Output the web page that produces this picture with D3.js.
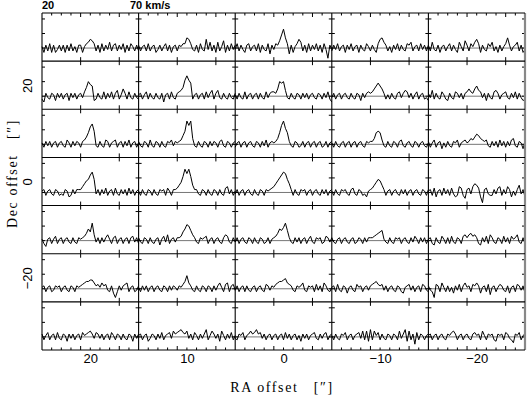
<!DOCTYPE html>
<html><head><meta charset="utf-8">
<script src="https://cdn.jsdelivr.net/npm/d3@7"></script>
<style>body{margin:0;background:#fff} svg{display:block}</style>
</head><body>
<script>
// ---- data ----
const raOffsets = [20, 10, 0, -10, -20];
const decOffsets = [30, 20, 10, 0, -10, -20, -30];
const raTicks = [20, 10, 0, -10, -20];
const decTicks = [20, 0, -20];
const velocity = [20,21,22,23,24,25,26,27,28,29,30,31,32,33,34,35,36,37,38,39,40,41,42,43,44,45,46,47,48,49,50,51,52,53,54,55,56,57,58,59,60,61,62,63,64,65,66,67,68,69,70];
const velMajorTicks = [40, 60];
const velMinorTicks = [25, 30, 35, 45, 50, 55, 65];
const intensityTicks = [0, 10, 20];
const velLabels = ["20", "70 km/s"];

// spectra, one array per Dec row, 5 RA columns each (units of 0.1 K)
const dec30 = [
 [1,-3,2,-2,3,-3,2,-3,-1,2, -2,2,-3,2,-2,3,-2,1,-3,2, 2,-3,1,3,4,6,5,3,-2,2, -3,3,-2,2,-1,4,-2,2,3,-2, 2,-1,3,-3,2,-2,3,1,-2,2, -2],
 [2,-2,1,2,-2,3,-2,1,2,-3, -1,2,-2,1,3,-2,2,-3,1,2, -2,2,1,3,3,7,6,3,-1,-2, 2,-3,3,-1,-2,6,-1,4,-2,2, -3,4,-2,1,5,-3,2,-2,3,-1, 2],
 [-1,3,-2,2,-1,-3,2,3,-2,1, 2,-2,3,-3,2,-1,-2,3,-4,2, -1,3,2,5,9,13,7,3,-4,2, -3,1,3,6,4,-2,2,-3,3,-2, 2,-1,3,-2,2,-3,3,-1,-7,2, -1],
 [-2,2,-1,3,-2,1,2,-3,2,-1, 3,-2,1,2,-3,2,-1,-2,3,1, -2,2,-1,-3,3,6,7,4,2,-2, 1,-3,2,-1,3,-2,2,-1,-2,3, 2,4,-2,1,2,-2,3,-1,2,-2, 2],
 [2,-2,4,-1,-2,2,-3,1,2,-2, 1,3,-2,2,-1,-3,4,1,-2,5, 2,-2,3,1,4,6,3,-3,2,-1, -2,3,1,4,-2,1,-3,2,-2,1, 3,7,2,-2,1,2,4,-2,2,-3, -1]
];
const dec20 = [
 [-2,-4,2,-1,-2,2,1,-3,2,-1, 2,-2,1,2,-3,2,-1,2,-2,1, 2,-1,3,6,10,8,7,-3,-2,2, -1,-2,3,-2,2,-1,3,-2,2,4, -2,1,5,2,-2,3,-1,-2,2,-1, -2],
 [1,2,-2,1,3,-2,2,-1,-2,2, -1,-2,2,-4,1,2,-2,3,-1,-2, 2,3,4,6,11,14,11,9,-2,1, 2,-2,1,2,-2,3,-1,2,4,-2, 2,4,-1,-2,2,-1,-2,2,-1,-2, 2],
 [1,-2,2,-1,-2,3,-2,1,2,-2, 1,2,-2,2,-1,-2,3,-1,2,3, 3,2,5,10,9,10,4,-1,-2,2, -1,-2,2,1,-2,2,-1,2,-2,1, 2,-1,-2,2,1,-2,2,-1,3,-2, -4],
 [-1,2,-2,1,2,-2,1,2,-1,-2, 2,-1,-2,2,1,-3,2,-1,2,3, 2,3,5,7,9,7,5,2,-2,1, -2,2,-1,-2,2,3,-1,2,4,3, -1,2,-2,1,3,-2,1,2,-2,-1, -3],
 [2,-1,4,-2,2,-1,-2,3,1,-2, -3,2,-1,-2,3,2,-1,2,-2,2, 3,5,3,2,5,7,4,3,-1,2, -3,2,-1,-2,3,4,2,-2,1,2, 3,-1,-2,2,-1,3,-2,2,-1,-3, -2]
];
const dec10 = [
 [1,-2,2,-1,2,-2,1,2,-2,1, 2,-1,-2,3,1,-2,2,-1,2,1, -2,2,3,5,8,12,14,9,-1,-2, 2,-1,-2,3,2,-2,1,2,3,-2, 1,2,-2,2,-1,3,-2,1,2,-2, 1],
 [2,-1,-2,2,1,-2,3,-1,-2,2, 1,-2,2,-1,-2,2,1,3,-1,2, 1,2,3,6,9,16,13,16,4,-1, -2,2,-1,-2,2,1,-2,2,-1,2, 1,-2,2,3,-1,-2,2,1,-2,1, 2],
 [-2,1,2,-2,1,2,-2,1,2,-1, -2,2,1,-2,2,-1,3,-2,1,2, 1,2,4,8,13,16,11,8,2,-1, -2,2,1,-2,-1,2,-2,1,2,-2, 1,2,-2,1,2,-2,-1,2,-2,1, 2],
 [1,-2,2,-1,-2,1,2,-2,1,2, -2,1,2,-2,1,2,-1,-2,2,1, 2,2,4,8,9,8,3,-1,-2,2, -1,-2,2,1,-2,2,3,-1,-2,1, 2,-1,-2,2,1,-2,1,2,-1,-2, 1],
 [2,-2,1,3,-2,1,2,-3,1,-2, 2,-1,-2,2,1,3,-2,1,2,3, 1,2,4,3,5,7,6,4,3,2, 3,-1,-2,2,-1,2,-2,3,-1,2, -2,2,-1,3,4,-1,-2,2,1,-3, 2]
];
const dec0 = [
 [1,2,-2,1,2,-1,-2,2,1,-2, -1,-2,2,1,-3,-2,2,-1,2,2, 2,4,6,8,9,12,14,9,-1,2, -2,2,-1,3,-2,1,2,-2,3,-1, -2,2,-1,2,-2,3,-1,2,-2,1, 2],
 [1,-2,2,-1,-2,2,1,-2,2,-1, -2,2,1,2,-2,3,1,-2,2,2, 3,5,7,11,16,13,16,11,5,2, 2,-1,-2,2,1,-2,2,-1,-2,2, 1,-2,2,-1,-2,3,4,-1,2,-2, 1],
 [-1,2,-2,1,2,-2,1,2,-1,-2, 2,-1,-2,2,1,-2,2,1,2,3, 4,6,8,10,12,14,13,9,6,2, -2,2,-1,-2,2,1,2,-2,1,2, -2,1,2,-1,-2,2,-1,2,-2,1, 2],
 [1,-2,2,-1,-2,2,1,2,-1,-2, 2,3,-1,-2,2,1,-2,-1,-3,1, 2,3,5,7,9,8,5,2,-2,1, 2,-2,1,2,-1,-2,2,-1,2,-2, 1,2,-2,1,2,-1,-2,2,1,-2, 2],
 [1,2,-2,3,-3,1,2,-2,3,-1, 2,-2,3,-1,-3,-2,4,3,-2,-4, 2,3,-1,4,6,5,3,-3,-7,2, 3,-1,-2,-2,2,-1,3,4,-2,2, -1,4,2,-3,1,-2,2,5,-1,2, -3]
];
const decm10 = [
 [1,-2,-4,1,2,-2,1,3,-2,1, 2,-2,1,2,-1,-2,2,-1,-2,2, 1,2,3,5,8,6,12,4,-1,2, -2,2,-1,2,4,1,-2,2,3,-2, 1,2,-2,1,2,-2,2,3,-1,2, -2],
 [2,-1,-2,2,1,-2,2,-1,-2,1, 2,-3,1,3,-1,4,-2,1,2,-1, 2,2,3,6,8,11,10,7,4,2, -1,-2,2,1,2,3,-2,1,2,-2, 1,2,-1,-2,2,4,3,-1,-2,2, -1],
 [-1,2,-2,1,2,-1,-2,2,1,-2, 2,-1,-2,2,1,-2,-1,2,-2,1, 2,3,5,8,7,9,12,7,2,-1, -2,2,-1,2,-2,1,2,-2,1,3, -1,-2,2,1,2,-2,-1,3,2,-1, 2],
 [2,-1,-2,1,2,-2,1,2,-1,-2, 1,2,-2,-1,2,1,-2,2,-1,2, 2,2,3,4,5,6,7,1,-1,-2, 2,-1,-2,2,1,2,-2,1,2,-1, -2,2,-1,3,1,-2,2,-1,2,-2, 1],
 [1,2,-2,-3,2,-1,-2,3,1,-2, 2,-2,3,-1,-2,2,1,-2,3,4, 2,4,5,3,4,2,-2,-3,2,-1, 3,-2,4,2,-1,-2,2,1,-2,3, -1,2,-2,3,1,2,4,-1,-2,2, -2]
];
const decm20 = [
 [1,2,-2,1,2,-2,-1,2,1,2, -2,1,2,-1,-2,2,1,-2,2,1, 2,3,4,5,5,6,6,4,2,3, 1,4,2,3,-1,-2,2,-3,-6,-2, 2,-1,2,3,4,-2,1,2,-2,-1, 2],
 [1,-2,2,-1,2,-2,1,2,-2,1, 2,-1,-2,2,1,-2,2,-1,2,1, -1,2,1,3,5,9,4,2,-1,-2, 2,-1,-2,2,1,-2,2,1,-2,2, -1,2,4,1,-2,3,4,-2,2,3, -1],
 [-1,2,-2,1,2,-2,2,-1,-2,1, 2,-2,1,2,-1,-2,3,2,-1,2, 1,3,4,5,5,6,7,4,3,2, -1,-2,2,1,2,4,-1,-2,2,1, 2,-2,3,-1,2,-2,4,2,-1,-2, 1],
 [1,2,-2,3,-1,-2,2,1,-3,1, 2,-1,-2,3,1,2,-2,1,2,-1, 2,3,4,5,3,2,3,-1,2,-2, 1,2,-1,-2,2,1,-2,-3,1,2, 3,-1,2,-2,1,2,-2,3,2,-1, -2],
 [2,-1,-2,-6,3,2,-2,4,1,-2, 2,-2,1,-3,2,-1,3,-2,2,4, 1,2,-2,3,2,4,2,-3,1,2, -2,3,-4,1,2,-2,1,3,2,-1, -2,2,-3,1,2,-2,3,2,-1,2, -3]
];
const decm30 = [
 [2,-2,1,3,-2,1,2,-2,3,-1, -2,2,1,-3,2,-1,2,-2,1,2, -2,3,1,2,3,4,2,-1,3,2, -1,2,-2,1,2,-2,3,1,-2,2, 1,-2,2,-1,-2,2,1,-3,2,-1, 2],
 [1,2,-2,1,2,-3,-1,2,1,-2, 2,-1,3,-2,1,2,3,-1,4,2, 3,4,5,3,2,4,-1,2,-2,3, 1,-2,2,-1,2,5,-2,1,4,2, -1,2,-3,4,1,-2,2,-1,3,-2, 1],
 [-1,-2,2,1,3,-2,1,2,4,2, 3,5,2,3,-1,2,-2,1,2,-2, 1,2,-2,1,2,-2,3,-1,2,-2, 1,2,-2,1,-3,2,-1,2,-2,1, 2,3,-1,-2,2,-1,2,3,-2,1, 2],
 [1,-2,2,-1,-2,2,1,3,-2,1, 2,-2,1,2,3,-1,4,-2,4,-3, 5,-2,4,1,3,-2,2,-1,-2,2, 1,-2,2,1,-2,4,-1,2,5,-3, 4,-2,2,-5,3,-2,2,1,-2,1, 2],
 [1,2,-2,1,2,-2,1,2,-1,-2, 2,1,3,4,2,-2,1,2,-2,1, 2,-1,-2,2,3,1,2,-2,4,1, -2,2,1,2,-2,-3,2,1,2,-2, 3,2,-1,-2,-4,2,1,3,-2,1, 2]
];
const spectraRows = [dec30, dec20, dec10, dec0, decm10, decm20, decm30];

// ---- drawing ----
const W = 527, H = 398;
const svg = d3.select("body").append("svg").attr("width", W).attr("height", H);
const x = d3.scaleLinear().domain([25, -25]).range([42, 525]);
const y = d3.scaleLinear().domain([35, -35]).range([13, 350]);
const half = 5;
const nR = decOffsets.length;

const cells = svg.append("g");
decOffsets.forEach((dec, i) => {
  raOffsets.forEach((ra, j) => {
    const left = x(ra + half), right = x(ra - half);
    const top = y(dec + half), bottom = y(dec - half);
    const vx = d3.scaleLinear().domain([20, 70]).range([left, right]);
    const ty = d3.scaleLinear().domain([-9, 24.1]).range([bottom, top]);
    const g = cells.append("g");
    g.append("line").attr("x1", left).attr("x2", right)
      .attr("y1", ty(0)).attr("y2", ty(0))
      .attr("stroke", "#666").attr("stroke-width", 0.9);
    velMajorTicks.forEach(v => {
      g.append("line").attr("x1", vx(v)).attr("x2", vx(v)).attr("y1", top).attr("y2", top + 4).attr("stroke", "#000");
      g.append("line").attr("x1", vx(v)).attr("x2", vx(v)).attr("y1", bottom).attr("y2", bottom - 4).attr("stroke", "#000");
    });
    if (i === 0) velMinorTicks.forEach(v => {
      g.append("line").attr("x1", vx(v)).attr("x2", vx(v)).attr("y1", top).attr("y2", top + 2.5).attr("stroke", "#000");
    });
    if (i === nR - 1) velMinorTicks.forEach(v => {
      g.append("line").attr("x1", vx(v)).attr("x2", vx(v)).attr("y1", bottom).attr("y2", bottom - 2.5).attr("stroke", "#000");
    });
    intensityTicks.forEach(t => {
      g.append("line").attr("x1", left).attr("x2", left + 3).attr("y1", ty(t)).attr("y2", ty(t)).attr("stroke", "#000");
      g.append("line").attr("x1", right).attr("x2", right - 3).attr("y1", ty(t)).attr("y2", ty(t)).attr("stroke", "#000");
    });
    const spec = spectraRows[i][j].slice(0, velocity.length);
    const line = d3.line().x((d, k) => vx(velocity[k])).y(d => ty(d));
    g.append("path").datum(spec).attr("d", line)
      .attr("fill", "none").attr("stroke", "#000").attr("stroke-width", 1)
      .attr("stroke-linejoin", "round");
  });
});

// grid frame
const gridG = svg.append("g");
[25, 15, 5, -5, -15].forEach(v => {
  gridG.append("line").attr("x1", x(v)).attr("x2", x(v)).attr("y1", y(35)).attr("y2", y(-35))
    .attr("stroke", "#000").attr("stroke-width", 1.1);
});
gridG.append("line").attr("x1", x(-25)).attr("x2", x(-25)).attr("y1", y(35)).attr("y2", y(-35))
  .attr("stroke", "#888").attr("stroke-width", 2.2);
[35, 25, 15, 5, -5, -15, -25, -35].forEach(v => {
  gridG.append("line").attr("x1", x(25)).attr("x2", x(-25)).attr("y1", y(v)).attr("y2", y(v))
    .attr("stroke", "#000").attr("stroke-width", 1.1);
});

// axes labels
const xAxis = d3.axisBottom(x).tickValues(raTicks).tickSize(0).tickPadding(0);
const gx = svg.append("g").attr("transform", "translate(0,350)").call(xAxis);
gx.select(".domain").remove();
gx.selectAll("text").attr("y", 13).attr("dy", 0)
  .attr("font-family", "Liberation Sans, Arial, sans-serif").attr("font-size", 13).attr("fill", "#000");

const yAxis = d3.axisLeft(y).tickValues(decTicks).tickSize(0).tickPadding(0);
const gy = svg.append("g").attr("transform", "translate(32,0)").call(yAxis);
gy.select(".domain").remove();
gy.selectAll("text").attr("x", 0).attr("dy", 0).attr("text-anchor", "middle")
  .attr("transform", "rotate(-90)")
  .attr("font-family", "Liberation Sans, Arial, sans-serif").attr("font-size", 13).attr("fill", "#000");

// velocity range labels
svg.append("text").attr("x", 42).attr("y", 8.5).text(velLabels[0])
  .attr("font-family", "Liberation Sans, Arial, sans-serif").attr("font-weight", "bold").attr("font-size", 11);
svg.append("text").attr("x", 130).attr("y", 8.5).text(velLabels[1])
  .attr("font-family", "Liberation Sans, Arial, sans-serif").attr("font-weight", "bold").attr("font-size", 11);

// axis titles
svg.append("text").attr("x", 282).attr("y", 392).attr("text-anchor", "middle")
  .style("white-space", "pre")
  .attr("font-family", "Liberation Serif, Times New Roman, serif").attr("font-size", 14)
  .attr("letter-spacing", 1.6)
  .text("RA offset   [\u2033]");
svg.append("text").attr("transform", "translate(17,173.5) rotate(-90)").attr("text-anchor", "middle")
  .style("white-space", "pre")
  .attr("font-family", "Liberation Serif, Times New Roman, serif").attr("font-size", 14)
  .attr("letter-spacing", 1.6)
  .text("Dec offset   [\u2033]");
</script>
</body></html>
